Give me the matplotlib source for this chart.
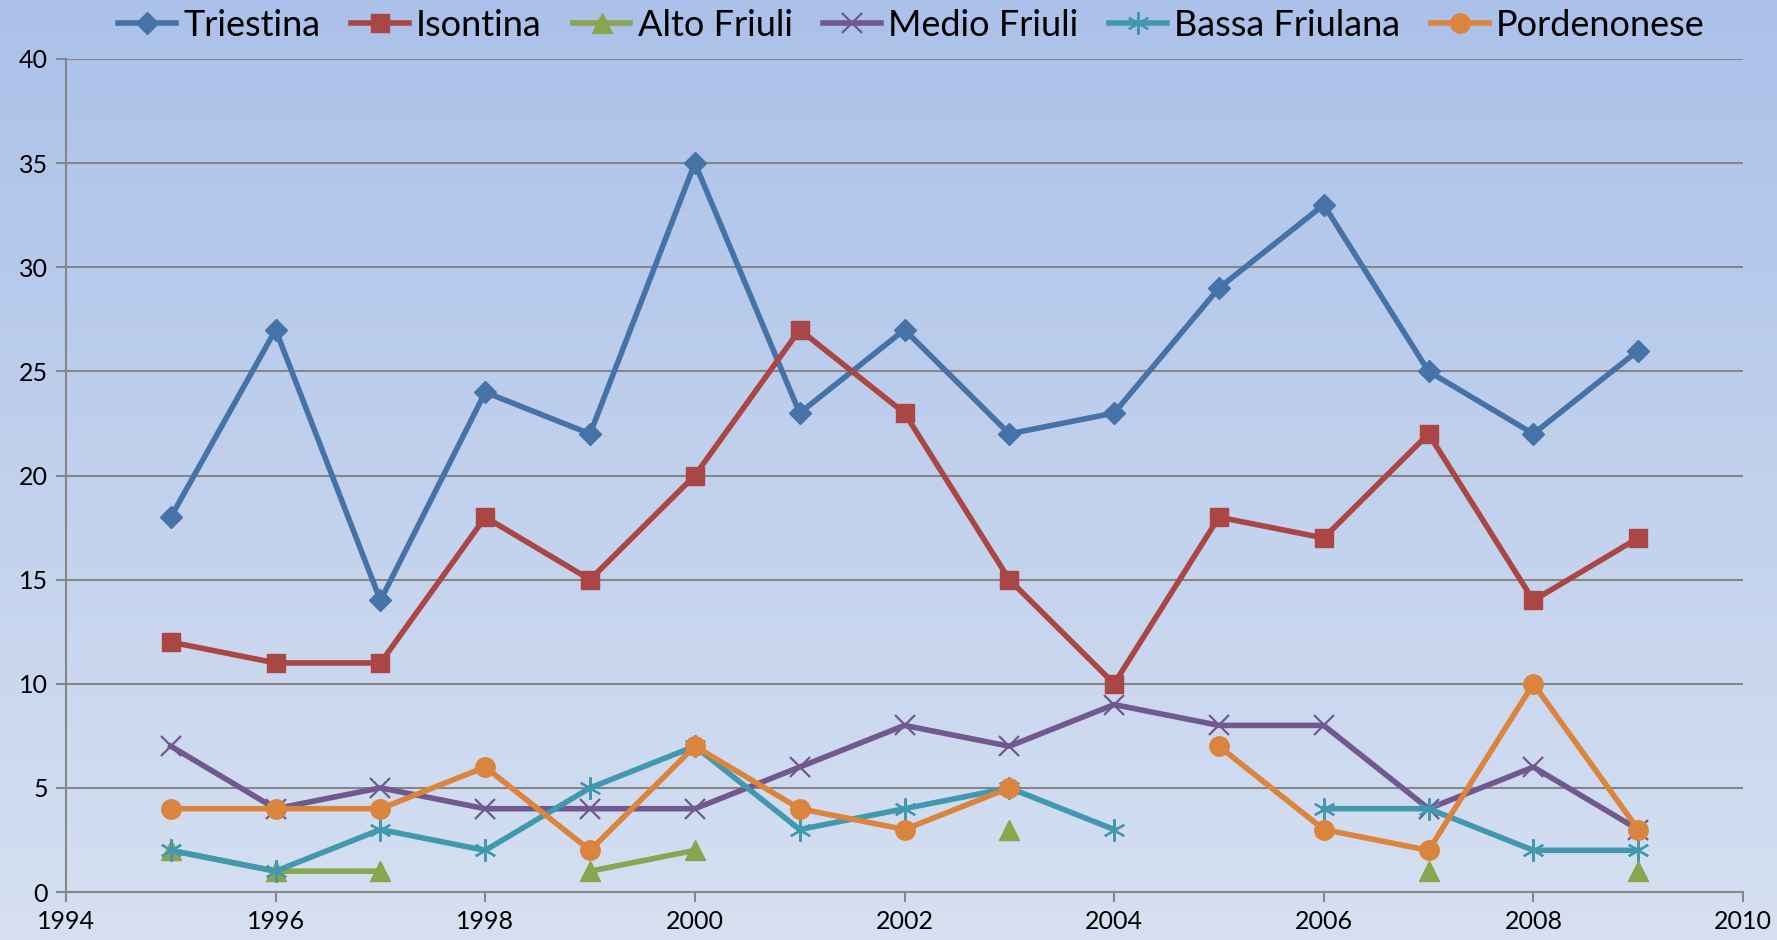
import numpy as np
import matplotlib
matplotlib.use("Agg")
import matplotlib.pyplot as plt
from matplotlib.colors import LinearSegmentedColormap

plt.rcParams['font.family'] = ['Lato', 'DejaVu Sans']

nan = np.nan
years = [1995, 1996, 1997, 1998, 1999, 2000, 2001, 2002,
         2003, 2004, 2005, 2006, 2007, 2008, 2009]

triestina = [18, 27, 14, 24, 22, 35, 23, 27, 22, 23, 29, 33, 25, 22, 26]
isontina = [12, 11, 11, 18, 15, 20, 27, 23, 15, 10, 18, 17, 22, 14, 17]
alto_friuli = [2, 1, 1, nan, 1, 2, nan, nan, 3, nan, nan, nan, 1, nan, 1]
medio_friuli = [7, 4, 5, 4, 4, 4, 6, 8, 7, 9, 8, 8, 4, 6, 3]
bassa_friulana = [2, 1, 3, 2, 5, 7, 3, 4, 5, 3, nan, 4, 4, 2, 2]
pordenonese = [4, 4, 4, 6, 2, 7, 4, 3, 5, nan, 7, 3, 2, 10, 3]

fig = plt.figure(figsize=(17.77, 9.40), dpi=100)

# sfondo sfumato
bg = fig.add_axes([0, 0, 1, 1], zorder=-10)
grad = np.linspace(0, 1, 256).reshape(-1, 1)
cmap = LinearSegmentedColormap.from_list("bg", ["#abc1e9", "#d6e0f1"])
bg.imshow(grad, aspect='auto', cmap=cmap, extent=[0, 1, 0, 1], origin='upper')
bg.axis('off')

ax = fig.add_axes([66 / 1777, 1 - 892 / 940, (1743 - 66) / 1777, (892 - 59) / 940])
ax.set_facecolor('none')

lw = 4
ax.plot(years, triestina, color='#4572a7', lw=lw, marker='D', ms=11, label='Triestina')
ax.plot(years, isontina, color='#aa4643', lw=lw, marker='s', ms=13, label='Isontina')
ax.plot(years, alto_friuli, color='#89a54e', lw=lw, marker='^', ms=14, label='Alto Friuli')
ax.plot(years, medio_friuli, color='#71588f', lw=lw, marker='x', ms=14, mew=1.6,
        label='Medio Friuli')
ax.plot(years, bassa_friulana, color='#4198af', lw=lw, marker=(6, 2, 0), ms=16, mew=1.6,
        label='Bassa Friulana')
ax.plot(years, pordenonese, color='#db843d', lw=lw, marker='o', ms=14, label='Pordenonese')

ax.set_xlim(1994, 2010)
ax.set_ylim(0, 40)
ax.set_xticks(range(1994, 2011, 2))
ax.set_yticks(range(0, 41, 5))
ax.yaxis.grid(True, color='#868686', lw=1.5)
ax.set_axisbelow(True)
for s in ['top', 'right']:
    ax.spines[s].set_visible(False)
for s in ['left', 'bottom']:
    ax.spines[s].set_color('#868686')
    ax.spines[s].set_linewidth(1.5)
ax.tick_params(axis='both', direction='out', color='#868686', width=1.5, length=7,
               labelsize=18, pad=6)

fig.legend(loc='upper center', bbox_to_anchor=(0.513, 1.01), ncol=6, frameon=False,
           fontsize=26, handlelength=1.6, handletextpad=0.2, columnspacing=0.85,
           borderaxespad=0.1)

fig.savefig('out.png', dpi=100)
